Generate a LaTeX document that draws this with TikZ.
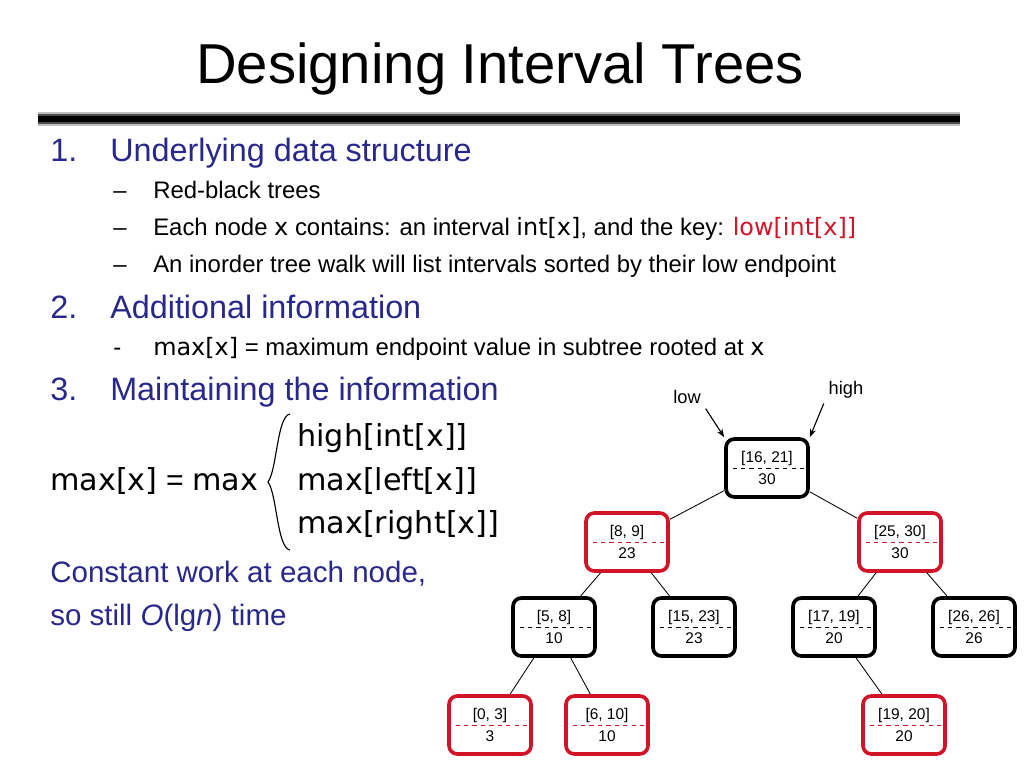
\documentclass[tikz,border=0pt]{standalone}
\usepackage{fontspec}
\setmainfont{Liberation Sans}
\newfontfamily\codefont{DejaVu Sans}
\usetikzlibrary{positioning,arrows.meta}
\definecolor{ttl-blue}{RGB}{40,40,140}
\definecolor{rb-red}{RGB}{210,20,40}
\newcommand{\cf}[1]{{\codefont #1}}
\begin{document}
\begin{tikzpicture}[x=0.025cm,y=-0.025cm,
    txt/.style={anchor=base west, inner sep=0pt},
    ivbox/.style={
        draw, line width=2.6pt, rounded corners=6pt, fill=white,
        minimum width=2.05cm, minimum height=1.45cm, align=center,
        font=\fontsize{11}{15}\selectfont, inner sep=1pt
    }, redbox/.style={ivbox, draw=rb-red},
    blkbox/.style={ivbox, draw=black},
    pil/.style={-{Stealth[length=6pt]}, line width=0.8pt}]
    \useasboundingbox (0,0) rectangle (1024,768);

    % title and rule
    \node[inner sep=0pt, anchor=base] (title) at (500,84) {\fontsize{40}{44}\selectfont Designing Interval Trees};
    \fill[black!25] (38,112) rectangle (960,126);
    \fill[black!70] (38,114) rectangle (960,124);
    \fill[black] (38,116) rectangle (960,122);

    % bullets
    \begin{scope}[every node/.append style={txt}]
    \node[text=ttl-blue, font=\fontsize{23}{26}\selectfont] (n1) at (50,162) {1.};
    \node[text=ttl-blue, font=\fontsize{23}{26}\selectfont] (h1) at (110,162) {Underlying data structure};
    \foreach \yy/\tt [count=\i] in {198/{Red-black trees},
        235/{Each node \cf{x} contains: an interval \cf{int[x]}, and the key: \textcolor{rb-red}{\cf{low[int[x]]}}},
        272/{An inorder tree walk will list intervals sorted by their low endpoint}} {
        \node[font=\fontsize{17}{20}\selectfont] (d\i) at (113,\yy) {--};
        \node[font=\fontsize{17}{20}\selectfont] (s\i) at (153,\yy) {\tt};
    }
    \node[text=ttl-blue, font=\fontsize{23}{26}\selectfont] (n2) at (50,318) {2.};
    \node[text=ttl-blue, font=\fontsize{23}{26}\selectfont] (h2) at (110,318) {Additional information};
    \node[font=\fontsize{17}{20}\selectfont] (d4) at (113,355) {-};
    \node[font=\fontsize{17}{20}\selectfont] (s4) at (153,355) {\cf{max[x]} = maximum endpoint value in subtree rooted at \cf{x}};
    \node[text=ttl-blue, font=\fontsize{23}{26}\selectfont] (n3) at (50,400) {3.};
    \node[text=ttl-blue, font=\fontsize{23}{26}\selectfont] (h3) at (110,400) {Maintaining the information};

    % formula
    \node[font=\fontsize{21.5}{24}\selectfont] (mx) at (50,490) {\cf{max[x]} = \cf{max}};
    \node[font=\fontsize{21.5}{24}\selectfont] (f1) at (297,446) {\cf{high[int[x]]}};
    \node[font=\fontsize{21.5}{24}\selectfont] (f2) at (297,490) {\cf{max[left[x]]}};
    \node[font=\fontsize{21.5}{24}\selectfont] (f3) at (297,533) {\cf{max[right[x]]}};
    \node[text=ttl-blue, font=\fontsize{21}{24}\selectfont] (c1) at (50,582) {Constant work at each node,};
    \node[text=ttl-blue, font=\fontsize{21}{24}\selectfont] (c2) at (50,625) {so still \textit{O}(lg\textit{n}) time};
    \end{scope}
    \draw[line width=0.8pt] (290,414) .. controls (277,416) and (277,470) .. (268,482)
        .. controls (277,494) and (277,548) .. (290,550);

    % tree
    \node[blkbox] (r) at (767,468) {[16, 21]\\30};
    \node[redbox] (a) at (627,542) {[8, 9]\\23};
    \node[redbox] (b) at (900,542) {[25, 30]\\30};
    \node[blkbox] (aa) at (554,627) {[5, 8]\\10};
    \node[blkbox] (ab) at (694,627) {[15, 23]\\23};
    \node[blkbox] (ba) at (834,627) {[17, 19]\\20};
    \node[blkbox] (bb) at (974,627) {[26, 26]\\26};
    \node[redbox] (aaa) at (490,725) {[0, 3]\\3};
    \node[redbox] (aab) at (607,725) {[6, 10]\\10};
    \node[redbox] (baa) at (904,725) {[19, 20]\\20};
    \foreach \p/\c in {r/a,r/b,a/aa,a/ab,b/ba,b/bb,aa/aaa,aa/aab,ba/baa}
        \draw[line width=0.6pt] (\p) -- (\c);
    \foreach \n in {r,ab,aa,ba,bb}
        \draw[dashed, line width=0.6pt] (\n.west) -- (\n.east);
    \foreach \n in {a,b,aaa,aab,baa}
        \draw[dashed, rb-red, line width=0.6pt] (\n.west) -- (\n.east);

    \node[font=\fontsize{13}{15}\selectfont] (low) at (687,397) {low};
    \node[font=\fontsize{13}{15}\selectfont] (high) at (846,390) {high};
    \draw[pil] (low.south east) -- (r.north west);
    \draw[pil] (high.south west) -- (r.north east);
\end{tikzpicture}
\end{document}
